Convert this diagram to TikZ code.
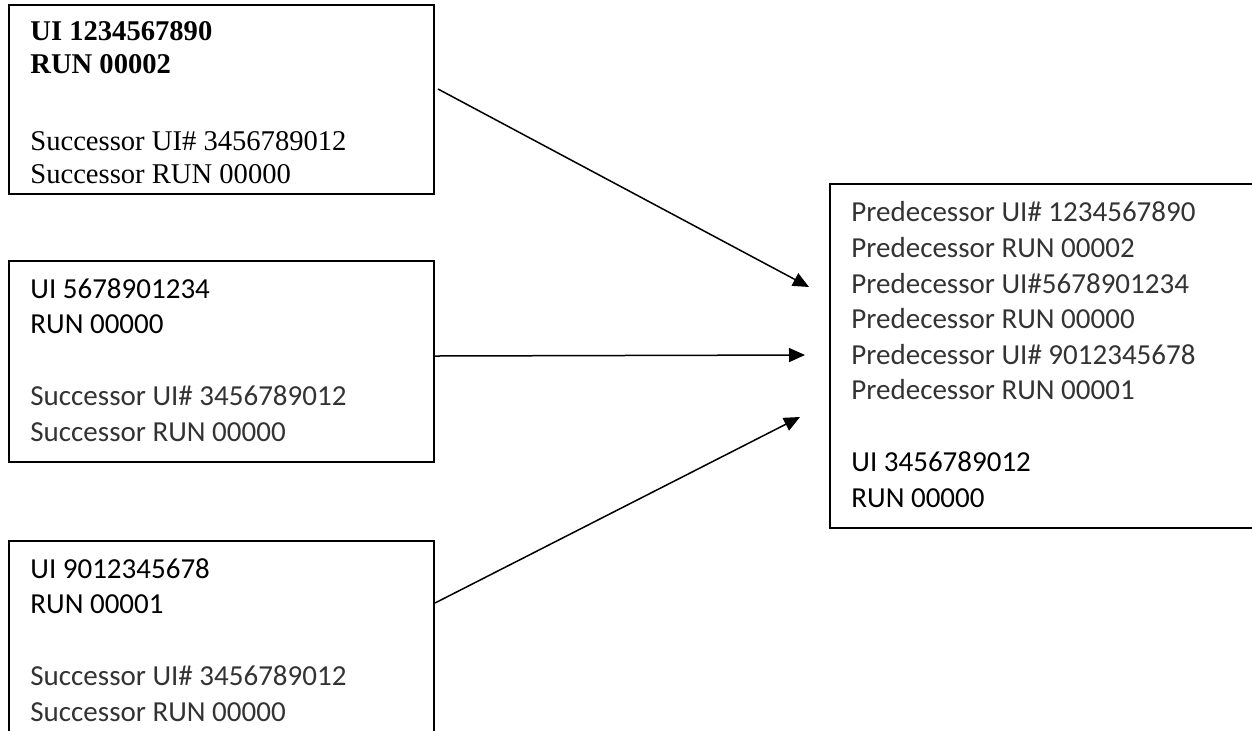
\documentclass[tikz,border=0pt]{standalone}
\usepackage{fontspec}
\setmainfont{Liberation Serif}
\newfontfamily\calibri{Carlito}
\usetikzlibrary{arrows.meta}
\newcommand\lightline{\color{black!80}}
\begin{document}
\begin{tikzpicture}[x=0.5pt,y=-0.5pt,
  box/.style={draw, line width=1pt, rectangle, inner sep=0pt, anchor=north west},
  % multi-line text: the base anchor sits on the last line's baseline
  serifnote/.style={anchor=base west, inner sep=0pt, align=left,
    font=\fontsize{14.3}{16.5}\selectfont},
  sansnote/.style={anchor=base west, inner sep=0pt, align=left,
    font=\calibri\fontsize{14.5}{17.8}\selectfont},
  link/.style={line width=0.75pt, -{Triangle[length=8pt,width=7pt]}}]
\useasboundingbox (0,0) rectangle (1252,730);
\clip (0,0) rectangle (1252,730);

% predecessor records on the left
\node[box, minimum width=212.5pt, minimum height=94.5pt] (b1) at (8,4) {};
\node[serifnote] (t1) at (30,183)
  {\textbf{UI 1234567890}\\\textbf{RUN 00002}\\[22pt]Successor UI\# 3456789012\\Successor RUN 00000};

\node[box, minimum width=212.5pt, minimum height=100.5pt] (b2) at (8,260) {};
\node[sansnote] (t2) at (30,441)
  {UI 5678901234\\RUN 00000\\[18pt]{\lightline Successor UI\# 3456789012}\\{\lightline Successor RUN 00000}};

\node[box, minimum width=212.5pt, minimum height=120pt] (b3) at (8,540) {};
\node[sansnote] (t3) at (30,721)
  {UI 9012345678\\RUN 00001\\[18pt]{\lightline Successor UI\# 3456789012}\\{\lightline Successor RUN 00000}};

% successor record on the right
\node[box, minimum width=230.5pt, minimum height=172pt] (b4) at (829,183) {};
\node[sansnote] (t4) at (851,507)
  {{\lightline Predecessor UI\# 1234567890}\\{\lightline Predecessor RUN 00002}\\
   {\lightline Predecessor UI\#5678901234}\\{\lightline Predecessor RUN 00000}\\
   {\lightline Predecessor UI\# 9012345678}\\{\lightline Predecessor RUN 00001}\\[18pt]
   UI 3456789012\\RUN 00000};

% arrow tips just short of the successor box
\coordinate (e1) at (809,287);
\coordinate (e2) at (805,355);
\coordinate (e3) at (800,417);

\draw[link] ([xshift=1.5pt,yshift=5.25pt]b1.east) -- (e1);
\draw[link] ([yshift=2.75pt]b2.east) -- (e2);
\draw[link] ([yshift=-31.5pt]b3.north east) -- (e3);
\end{tikzpicture}
\end{document}
